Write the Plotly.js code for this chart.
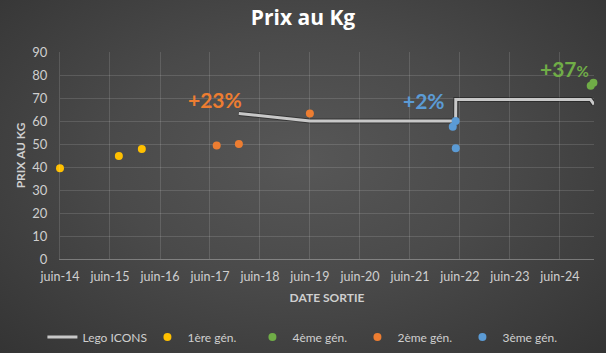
<!DOCTYPE html>
<html>
<head>
<meta charset="utf-8">
<script src="https://cdn.plot.ly/plotly-3.0.1.min.js"></script>
<style>
html,body{margin:0;padding:0;width:606px;height:353px;overflow:hidden;}
body{background:radial-gradient(ellipse at 50% 45%, #575757 0%, #4a4a4a 45%, #343434 100%);}
#chart{width:606px;height:353px;}
</style>
</head>
<body>
<div id="chart"></div>
<script>
// Lego ICONS price per kg line
const iconsDates = ['2017-12-29','2019-06-01','2022-05-01','2022-05-02','2025-01-10','2025-02-05'];
const iconsValues = [63.3, 60.0, 60.0, 69.4, 69.4, 67.2];

// Generations
const gen1Dates = ['2014-06-01','2015-08-05','2016-01-20'];
const gen1Values = [39.5, 44.8, 47.8];
const gen2Dates = ['2017-07-20','2017-12-29','2019-06-01'];
const gen2Values = [49.3, 50.0, 63.3];
const gen3Dates = ['2022-04-10','2022-05-01','2022-05-02'];
const gen3Values = [57.5, 60.0, 48.2];
const gen4Dates = ['2025-01-12','2025-02-01'];
const gen4Values = [75.3, 76.6];

const tickVals = ['2014-06-01','2015-06-01','2016-06-01','2017-06-01','2018-06-01','2019-06-01','2020-06-01','2021-06-01','2022-06-01','2023-06-01','2024-06-01'];
const tickText = ['juin-14','juin-15','juin-16','juin-17','juin-18','juin-19','juin-20','juin-21','juin-22','juin-23','juin-24'];

const FONT = 'Lato, "Open Sans", sans-serif';
const mk = (c) => ({color: c, size: 8, line: {width: 0}});

const traces = [
  {x: iconsDates, y: iconsValues, mode: 'lines', type: 'scatter', showlegend: false, hoverinfo: 'skip',
   line: {color: 'rgba(0,0,0,0.35)', width: 5}, cliponaxis: false},
  {x: iconsDates, y: iconsValues, mode: 'lines', type: 'scatter', name: 'Lego ICONS',
   line: {color: '#c8c8c8', width: 3}, cliponaxis: false},
  {x: gen1Dates, y: gen1Values, mode: 'markers', type: 'scatter', name: '1ère gén.', marker: mk('#FFC000'), cliponaxis: false},
  {x: gen4Dates, y: gen4Values, mode: 'markers', type: 'scatter', name: '4ème gén.', marker: mk('#70AD47'), cliponaxis: false},
  {x: gen2Dates, y: gen2Values, mode: 'markers', type: 'scatter', name: '2ème gén.', marker: mk('#ED7D31'), cliponaxis: false},
  {x: gen3Dates, y: gen3Values, mode: 'markers', type: 'scatter', name: '3ème gén.', marker: mk('#5B9BD5'), cliponaxis: false}
];

const layout = {
  width: 606, height: 353,
  paper_bgcolor: 'rgba(0,0,0,0)', plot_bgcolor: 'rgba(0,0,0,0)',
  margin: {l: 60, r: 12, t: 52, b: 94},
  font: {family: FONT, color: '#c8c8c8', size: 12},
  title: {text: '<b>Prix au Kg</b>', font: {family: '"Open Sans", sans-serif', size: 21, color: '#ffffff'}, x: 0.5, xanchor: 'center', y: 0.95, yanchor: 'middle', yref: 'container'},
  xaxis: {type: 'date', range: ['2014-06-01','2025-02-05'], tickvals: tickVals, ticktext: tickText,
    showgrid: true, gridcolor: 'rgba(255,255,255,0.13)', gridwidth: 1,
    showline: true, linecolor: 'rgba(255,255,255,0.3)', linewidth: 1, ticks: '', ticklabelstandoff: 6,
    tickfont: {size: 12.5, color: '#cfcfcf'},
    title: {text: '<b>DATE SORTIE</b>', font: {size: 12, color: '#cfcfcf'}, standoff: 10},
    zeroline: false},
  yaxis: {range: [0, 90], dtick: 10, showgrid: true, gridcolor: 'rgba(255,255,255,0.13)', gridwidth: 1,
    showline: true, linecolor: 'rgba(255,255,255,0.13)', zeroline: false, ticks: '', ticklabelstandoff: 9,
    tickfont: {size: 13, color: '#cfcfcf'},
    title: {text: '<b>PRIX AU KG</b>', font: {size: 12, color: '#cfcfcf'}, standoff: 4}},
  legend: {orientation: 'h', x: 0.070, xref: 'container', xanchor: 'left', y: 0.045, yref: 'container', yanchor: 'middle',
    entrywidth: 60,
    font: {size: 12, color: '#cfcfcf'}, bgcolor: 'rgba(0,0,0,0)', traceorder: 'normal'},
  annotations: [
    {x: '2017-07-10', y: 69.5, xref: 'x', yref: 'y', text: '<b>+23%</b>', showarrow: false,
     font: {family: FONT, size: 21, color: '#ED7D31'}},
    {x: '2021-09-15', y: 68.8, xref: 'x', yref: 'y', text: '<b>+2%</b>', showarrow: false,
     font: {family: FONT, size: 21, color: '#5B9BD5'}},
    {x: '2024-07-05', y: 82.8, xref: 'x', yref: 'y', text: '<b>+37<span style="font-size:15px">%</span></b>', showarrow: false,
     font: {family: FONT, size: 21, color: '#70AD47'}}
  ]
};

Plotly.newPlot('chart', traces, layout, {displayModeBar: false, staticPlot: true});
</script>
</body>
</html>
